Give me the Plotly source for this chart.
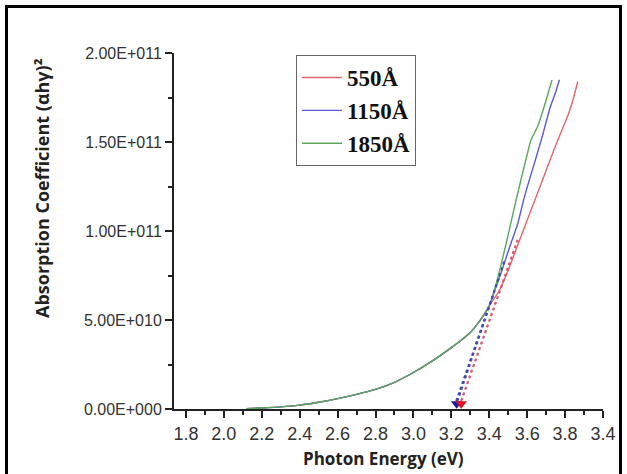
import plotly.graph_objects as go

# ---------------- data ----------------
common_energy = [2.12, 2.2, 2.3, 2.4, 2.5, 2.6, 2.7, 2.8, 2.9, 3.0, 3.1, 3.2, 3.25, 3.3, 3.35, 3.4]
common_abs = [0.02e10, 0.06e10, 0.12e10, 0.22e10, 0.38e10, 0.58e10, 0.82e10, 1.1e10,
              1.5e10, 2.05e10, 2.7e10, 3.45e10, 3.85e10, 4.3e10, 4.95e10, 5.8e10]

red_energy = [3.45, 3.5, 3.55, 3.6, 3.65, 3.7, 3.75, 3.8, 3.825, 3.845, 3.867]
red_abs = [6.6e10, 7.8e10, 9.2e10, 10.6e10, 12.0e10, 13.4e10, 14.8e10,
           16.1e10, 16.8e10, 17.5e10, 18.4e10]

blue_energy = [3.43, 3.47, 3.514, 3.55, 3.585, 3.615, 3.638, 3.66, 3.682, 3.72, 3.75, 3.77]
blue_abs = [6.7e10, 7.9e10, 9.3e10, 10.4e10, 11.9e10, 13.0e10, 13.8e10,
            14.6e10, 15.4e10, 16.9e10, 17.8e10, 18.5e10]

green_energy = [3.43, 3.46, 3.5, 3.53, 3.567, 3.6, 3.62, 3.656, 3.69, 3.731]
green_abs = [6.8e10, 8.0e10, 9.8e10, 11.2e10, 12.87e10, 14.3e10, 15.1e10,
             15.9e10, 17.0e10, 18.48e10]

# tangent (Tauc extrapolation) lines: [start, end]
tan_green_x = [3.226, 3.42]
tan_green_y = [0.45e10, 6.4e10]
tan_blue_x = [3.232, 3.48]
tan_blue_y = [0.45e10, 8.3e10]
tan_red_x = [3.252, 3.55]
tan_red_y = [0.45e10, 9.5e10]

# band-gap arrow heads
gap_x = [3.228, 3.252]
gap_y = [0.3e10, 0.3e10]

series_names = ["550Å", "1150Å", "1850Å"]

x_tickvals = [1.8, 2.0, 2.2, 2.4, 2.6, 2.8, 3.0, 3.2, 3.4, 3.6, 3.8, 4.0]
x_ticktext = ["1.8", "2.0", "2.2", "2.4", "2.6", "2.8", "3.0", "3.2", "3.4", "3.6", "3.8", "3.4"]
y_tickvals = [0, 5e10, 1e11, 1.5e11, 2e11]
y_ticktext = ["0.00E+000", "5.00E+010", "1.00E+011", "1.50E+011", "2.00E+011"]

# ---------------- styling ----------------
RED = "#e8646c"
BLUE = "#5a5ad8"
GREEN = "#5aa85a"

W, H = 627, 474
L, R, T, B = 174, 603, 53, 409  # plot area in pixels


def px_x(p):
    return (p - L) / (R - L)


def px_y(p):
    return (B - p) / (B - T)


fig = go.Figure()

for name, ex, ab, col in [
    (series_names[0], red_energy, red_abs, RED),
    (series_names[1], blue_energy, blue_abs, BLUE),
    (series_names[2], green_energy, green_abs, GREEN),
]:
    fig.add_trace(go.Scatter(
        x=common_energy + ex, y=common_abs + ab, mode="lines", name=name,
        legendgroup=name, line=dict(color=col, width=1.4, shape="spline", smoothing=0.6),
    ))

for tx, ty, col in [(tan_green_x, tan_green_y, "#4a5aa8"),
                    (tan_blue_x, tan_blue_y, "#4048b8"),
                    (tan_red_x, tan_red_y, "#e0506a")]:
    fig.add_trace(go.Scatter(x=tx, y=ty, mode="lines", showlegend=False,
                             line=dict(color=col, width=2.2, dash="dot")))

fig.add_trace(go.Scatter(
    x=gap_x, y=gap_y, mode="markers", showlegend=False,
    marker=dict(symbol="triangle-down", size=10, color=["#1a1aa0", "#e01020"],
                line=dict(width=0)),
))

fig.update_layout(
    width=W, height=H,
    margin=dict(l=L, r=W - R, t=T, b=H - B, pad=0),
    paper_bgcolor="white", plot_bgcolor="white",
    showlegend=True,
    legend=dict(
        x=px_x(296), y=px_y(55), xanchor="left", yanchor="top",
        bordercolor="#666", borderwidth=1, bgcolor="white",
        font=dict(family="Liberation Serif", size=23, color="#111", weight="bold"),
        traceorder="grouped", tracegroupgap=0,
        itemwidth=40,
    ),
    xaxis=dict(
        range=[1.737, 4.0], showgrid=False, zeroline=False,
        showline=True, linecolor="#222", linewidth=2,
        ticks="outside", ticklen=7, tickwidth=1.5, tickcolor="#222",
        tickmode="array", tickvals=x_tickvals, ticktext=x_ticktext,
        tickfont=dict(family="Liberation Sans", size=18, color="#333"),
        minor=dict(tickvals=[round(1.9 + 0.2 * i, 1) for i in range(11)],
                   ticks="outside", ticklen=4, tickwidth=1.5, tickcolor="#222"),
    ),
    yaxis=dict(
        range=[0, 2e11], showgrid=False, zeroline=False,
        showline=True, linecolor="#222", linewidth=2,
        ticks="outside", ticklen=7, tickwidth=1.5, tickcolor="#222",
        tickmode="array", tickvals=y_tickvals, ticktext=y_ticktext,
        tickfont=dict(family="Liberation Sans", size=16, color="#333"),
        minor=dict(tickvals=[2.5e10, 7.5e10, 1.25e11, 1.75e11],
                   ticks="outside", ticklen=4, tickwidth=1.5, tickcolor="#222"),
    ),
    annotations=[
        dict(text="<b>Photon Energy (eV)</b>", xref="paper", yref="paper",
             x=px_x(383), y=px_y(458), xanchor="center", yanchor="middle",
             showarrow=False, font=dict(family="Open Sans", size=17, color="#222")),
        dict(text="<b>Absorption Coefficient (αhγ)²</b>", xref="paper", yref="paper",
             x=px_x(42), y=px_y(188), xanchor="center", yanchor="middle",
             textangle=-90, showarrow=False,
             font=dict(family="Open Sans", size=18, color="#222")),
    ],
    shapes=[
        dict(type="line", xref="paper", yref="paper", x0=px_x(6.5), x1=px_x(6.5),
             y0=px_y(5), y1=px_y(474), line=dict(color="black", width=3)),
        dict(type="line", xref="paper", yref="paper", x0=px_x(5), x1=px_x(622),
             y0=px_y(6.5), y1=px_y(6.5), line=dict(color="black", width=3)),
        dict(type="line", xref="paper", yref="paper", x0=px_x(620.5), x1=px_x(620.5),
             y0=px_y(5), y1=px_y(474), line=dict(color="black", width=3)),
    ],
)

fig.write_html("out.html")
